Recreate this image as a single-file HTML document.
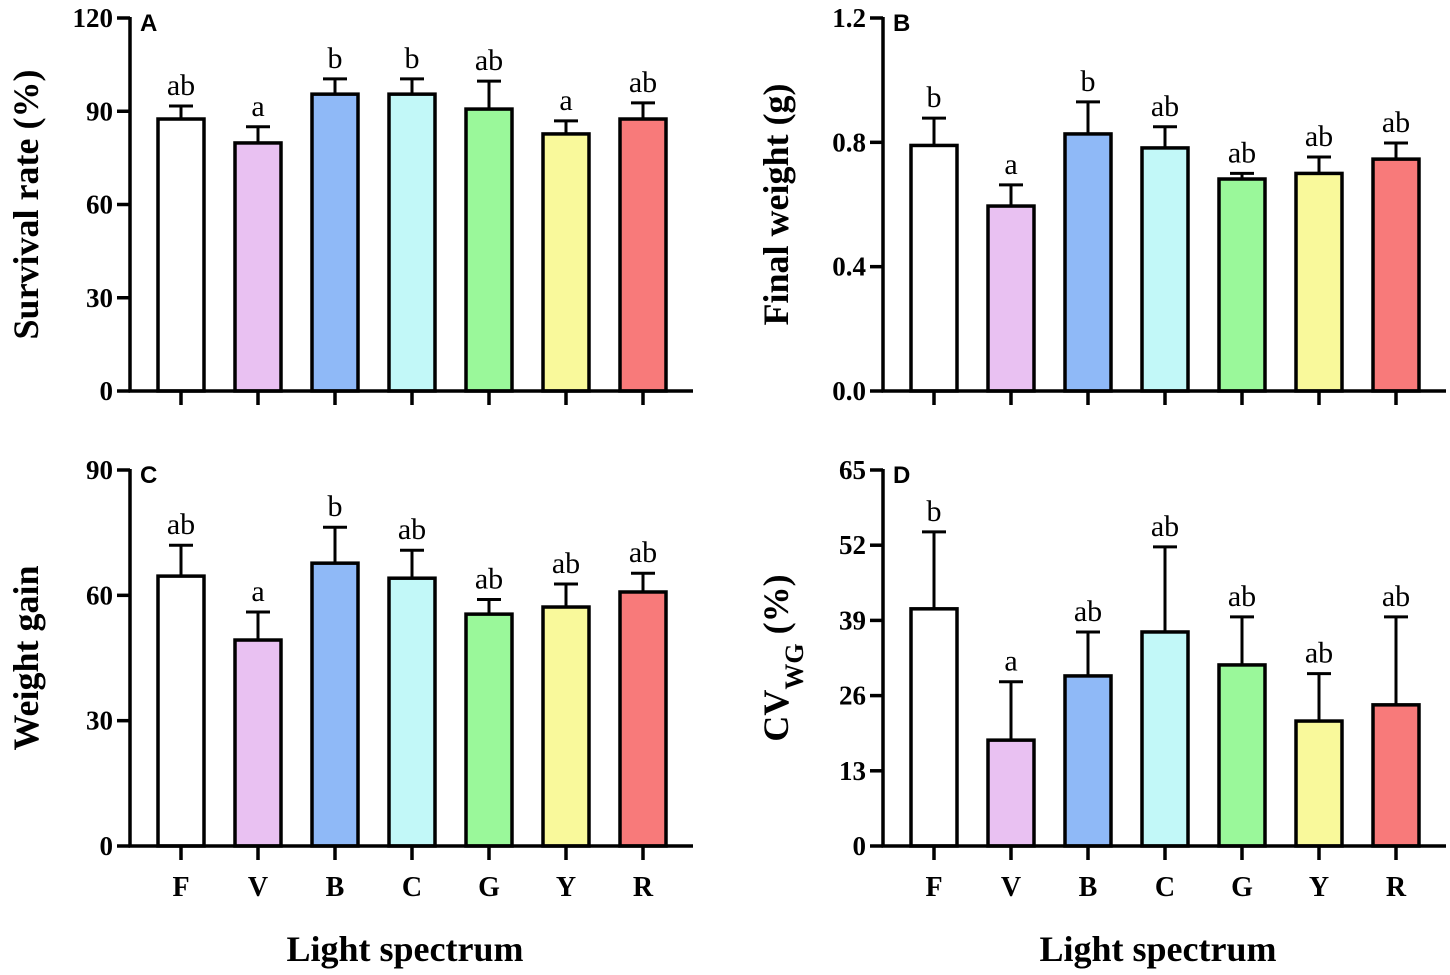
<!DOCTYPE html>
<html><head><meta charset="utf-8"><style>
body{margin:0;background:#fff;}
svg{display:block;}
</style></head><body>
<svg id="chart" width="1450" height="975" xmlns="http://www.w3.org/2000/svg"></svg>
<script>
const categories=["F","V","B","C","G","Y","R"];
const colors=["#ffffff","#e9c1f2","#8fb9f7","#c2f8f8","#9af89a","#f9f99b","#f87a7a"];
const survivalValues=[87.5,79.8,95.5,95.5,90.7,82.7,87.5];
const survivalErrors=[4.2,5.2,4.9,4.9,9,4.2,5.2];
const survivalLetters=["ab","a","b","b","ab","a","ab"];
const weightValues=[0.79,0.595,0.827,0.782,0.682,0.70,0.746];
const weightErrors=[0.088,0.068,0.103,0.068,0.018,0.053,0.052];
const weightLetters=["b","a","b","ab","ab","ab","ab"];
const gainValues=[64.6,49.3,67.7,64.1,55.5,57.2,60.8];
const gainErrors=[7.4,6.7,8.6,6.7,3.5,5.5,4.5];
const gainLetters=["ab","a","b","ab","ab","ab","ab"];
const cvValues=[41,18.3,29.4,37,31.3,21.6,24.4];
const cvErrors=[13.3,10.1,7.6,14.7,8.3,8.2,15.2];
const cvLetters=["b","a","ab","ab","ab","ab","ab"];
const ticksA=[0,30,60,90,120], ticksB=[0,0.4,0.8,1.2], ticksC=[0,30,60,90], ticksD=[0,13,26,39,52,65];
const labelsB=["0.0","0.4","0.8","1.2"];

const NS="http://www.w3.org/2000/svg";
const svg=document.getElementById("chart");
function el(tag,attrs,parent){const e=document.createElementNS(NS,tag);for(const k in attrs)e.setAttribute(k,attrs[k]);(parent||svg).appendChild(e);return e;}
function txt(s,attrs,parent){const t=el("text",attrs,parent);t.textContent=s;return t;}

function panel(o){
  const g=el("g",{});
  
  
  const y=v=>o.y0-(v/o.max)*(o.y0-o.y1);
  const x=i=>o.x0+51+i*77;
  o.vals.forEach((v,i)=>{
    const cx=x(i), top=y(v), et=y(v+o.errs[i]);
    const l=el("line",{x1:cx,x2:cx,y1:top,y2:et,stroke:"#000","stroke-width":3},g);
    
    
    const c=el("line",{x1:cx-12,x2:cx+12,y1:et,y2:et,stroke:"#000","stroke-width":3},g);
    
    
    const r=el("rect",{x:cx-23,y:top,width:46,height:o.y0-top,fill:colors[i],stroke:"#000","stroke-width":3.5},g);
    
    
    const t=txt(o.letters[i],{x:cx,y:et-11,"text-anchor":"middle","font-family":"Liberation Serif, serif","font-size":30},g);
    
    
    const tk=el("line",{x1:cx,x2:cx,y1:o.y0,y2:o.y0+14,stroke:"#000","stroke-width":3.5},g);
    
    
    if(o.xlabels){
      const xl=txt(categories[i],{x:cx,y:o.y0+50,"text-anchor":"middle","font-family":"Liberation Serif, serif","font-weight":"bold","font-size":28},g);
      
      
    }
  });
  const ya=el("line",{x1:o.x0,x2:o.x0,y1:o.y1-1,y2:o.y0+1.5,stroke:"#000","stroke-width":3.5},g);
  
  
  const xa=el("line",{x1:o.x0-1.5,x2:o.x0+563,y1:o.y0,y2:o.y0,stroke:"#000","stroke-width":3.5},g);
  
  
  o.ticks.forEach((t,i)=>{
    const yy=y(t);
    const tk=el("line",{x1:o.x0-13,x2:o.x0,y1:yy,y2:yy,stroke:"#000","stroke-width":3.5},g);
    
    
    const tl=txt(o.tlabels?o.tlabels[i]:String(t),{x:o.x0-17,y:yy+9,"text-anchor":"end","font-family":"Liberation Serif, serif","font-weight":"bold","font-size":27},g);
    
    
  });
  const pl=txt(o.letter,{x:o.x0+10,y:o.y1+13,"font-family":"Liberation Sans, sans-serif","font-weight":"bold","font-size":24},g);
  
  
  const cy=(o.y0+o.y1)/2;
  const yt=el("text",{x:o.tx,y:cy,transform:`rotate(-90 ${o.tx} ${cy})`,"text-anchor":"middle","font-family":"Liberation Serif, serif","font-weight":"bold","font-size":36},g);
  
  
  yt.innerHTML=o.title;
  if(o.xlabels){
    const xt=txt("Light spectrum",{x:o.x0+275,y:o.y0+115,"text-anchor":"middle","font-family":"Liberation Serif, serif","font-weight":"bold","font-size":36},g);
    
    
  }
}
panel({name:"panel-a-survival",x0:130,y0:391,y1:18,max:120,vals:survivalValues,errs:survivalErrors,letters:survivalLetters,ticks:ticksA,letter:"A",tx:38,title:"Survival rate (%)"});
panel({name:"panel-b-final-weight",x0:883,y0:391,y1:18,max:1.2,vals:weightValues,errs:weightErrors,letters:weightLetters,ticks:ticksB,tlabels:labelsB,letter:"B",tx:788,title:"Final weight (g)"});
panel({name:"panel-c-weight-gain",x0:130,y0:846,y1:470,max:90,vals:gainValues,errs:gainErrors,letters:gainLetters,ticks:ticksC,letter:"C",tx:38,title:"Weight gain",xlabels:true});
panel({name:"panel-d-cv",x0:883,y0:846,y1:470,max:65,vals:cvValues,errs:cvErrors,letters:cvLetters,ticks:ticksD,letter:"D",tx:788,title:'CV<tspan baseline-shift="sub" font-size="26">WG</tspan> (%)',xlabels:true});
</script>
</body></html>
